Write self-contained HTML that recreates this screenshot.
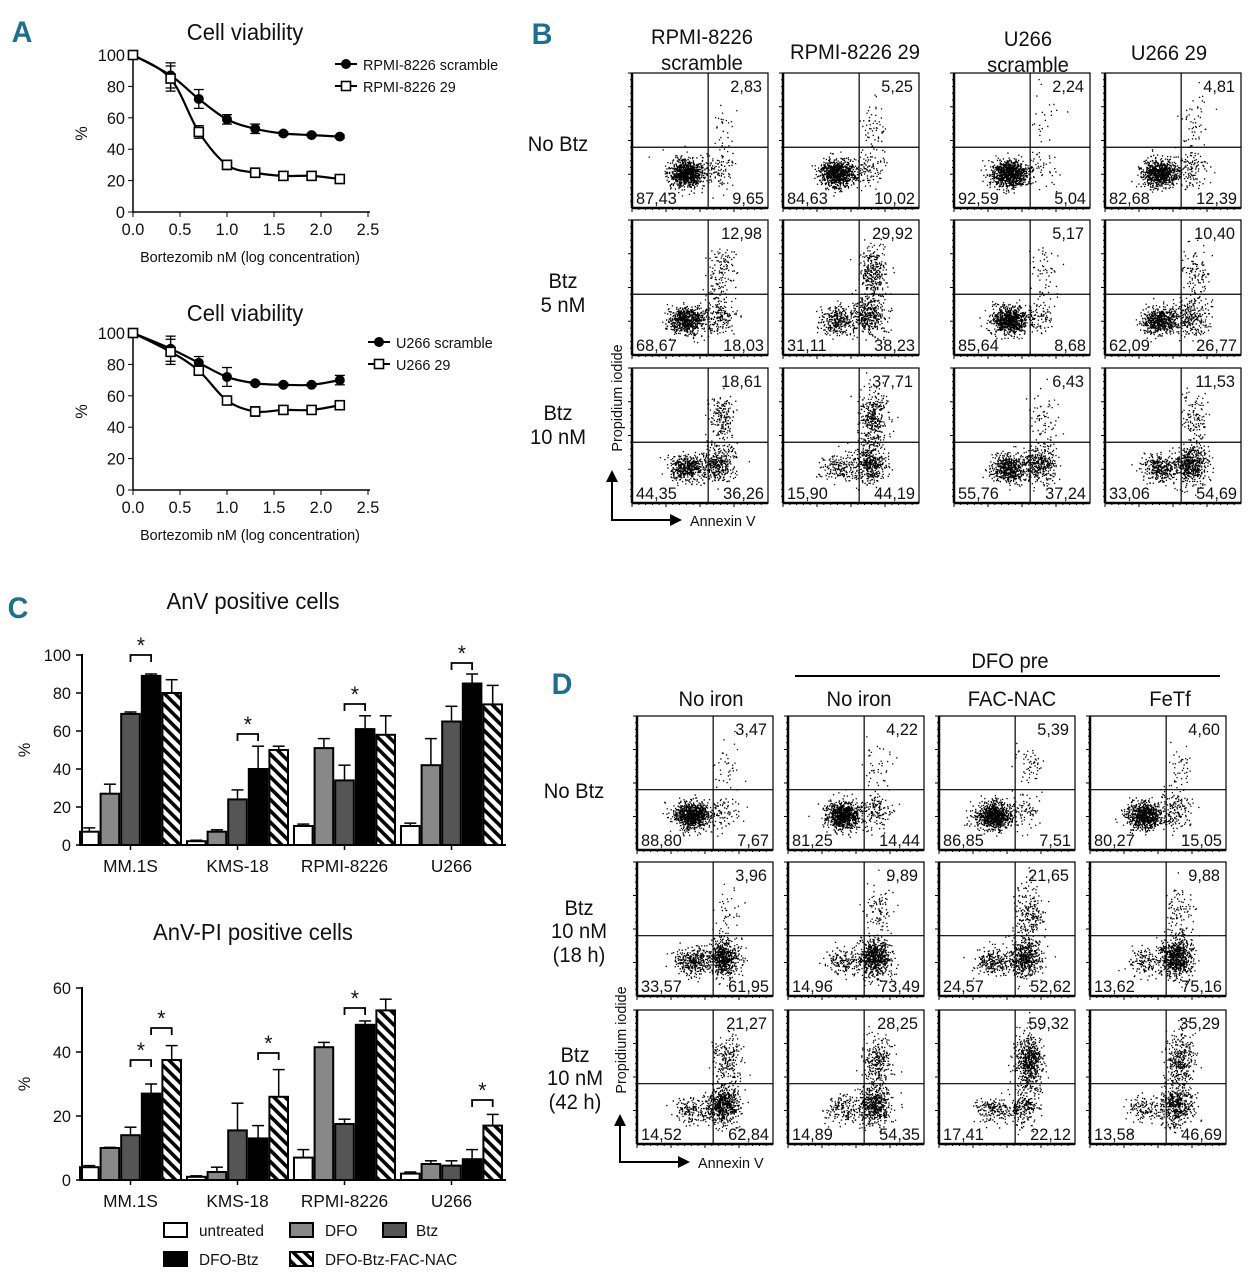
<!DOCTYPE html>
<html><head><meta charset="utf-8"><style>
html,body{margin:0;padding:0;background:#fff}
svg{display:block;font-family:"Liberation Sans Narrow","Liberation Sans",sans-serif}
</style></head><body>
<svg id="fig" width="1260" height="1280" viewBox="0 0 1260 1280" xmlns="http://www.w3.org/2000/svg">
<defs>
<pattern id="hatch" patternUnits="userSpaceOnUse" width="8" height="8" patternTransform="rotate(-45)">
<rect width="8" height="8" fill="#fff"/><rect width="3.6" height="8" fill="#000"/>
</pattern>
</defs>
<g id="root"></g>
</svg>
<script>
// ---------- Panel A data ----------
const doseX = [0, 0.4, 0.7, 1.0, 1.3, 1.6, 1.9, 2.2];
const rpmiScramble = [100, 87, 72, 59, 53, 50, 49, 48];
const rpmiScrambleErr = [0, 8, 6, 3, 3, 1, 1, 1];
const rpmi29 = [100, 85, 51, 30, 25, 23, 23, 21];
const rpmi29Err = [0, 8, 4, 3, 3, 1, 1, 1];
const u266Scramble = [100, 90, 81, 72, 68, 67, 67, 70];
const u266ScrambleErr = [0, 8, 4, 6, 1, 1, 1, 3];
const u26629 = [100, 88, 76, 57, 50, 51, 51, 54];
const u26629Err = [0, 8, 3, 2, 3, 2, 2, 2];
const xTicksA = ["0.0","0.5","1.0","1.5","2.0","2.5"];
const yTicksA = ["0","20","40","60","80","100"];
// ---------- Panel C data ----------
const cellLines = ["MM.1S","KMS-18","RPMI-8226","U266"];
const seriesNames = ["untreated","DFO","Btz","DFO-Btz","DFO-Btz-FAC-NAC"];
const anvUntreated = [7, 2, 10, 10];
const anvDFO = [27, 7, 51, 42];
const anvBtz = [69, 24, 34, 65];
const anvDFOBtz = [89, 40, 61, 85];
const anvFACNAC = [80, 50, 58, 74];
const anvErr = [[2,0.5,1,1.5],[5,1,5,14],[1,5,8,8],[1,12,7,5],[7,2,10,10]];
const pifUntreated = [4, 1, 7, 2];
const pifDFO = [10, 2.5, 41.5, 5];
const pifBtz = [14, 15.5, 17.5, 4.5];
const pifDFOBtz = [27, 13, 48.5, 6.5];
const pifFACNAC = [37.5, 26, 53, 17];
const pifErr = [[0.5,0.3,2.5,0.5],[0.2,1.5,1.5,1],[2.5,8.5,1.5,1.5],[3,4,1.2,3],[4.5,8.5,3.5,3.5]];
const yTicksCtop = ["0","20","40","60","80","100"];
const yTicksCbot = ["0","20","40","60"];
// ---------- Flow data (UR, LL, LR percentages) ----------
const flowB = [
 [[2.83,87.43,9.65],[5.25,84.63,10.02],[2.24,92.59,5.04],[4.81,82.68,12.39]],
 [[12.98,68.67,18.03],[29.92,31.11,38.23],[5.17,85.64,8.68],[10.40,62.09,26.77]],
 [[18.61,44.35,36.26],[37.71,15.90,44.19],[6.43,55.76,37.24],[11.53,33.06,54.69]]];
const flowD = [
 [[3.47,88.80,7.67],[4.22,81.25,14.44],[5.39,86.85,7.51],[4.60,80.27,15.05]],
 [[3.96,33.57,61.95],[9.89,14.96,73.49],[21.65,24.57,52.62],[9.88,13.62,75.16]],
 [[21.27,14.52,62.84],[28.25,14.89,54.35],[59.32,17.41,22.12],[35.29,13.58,46.69]]];

const NS="http://www.w3.org/2000/svg";
const root=document.getElementById('root');
const SX=0.96;
function mk(tag,attrs,parent){const e=document.createElementNS(NS,tag);for(const k in attrs)e.setAttribute(k,attrs[k]);(parent||root).appendChild(e);return e;}
function txt(x,y,s,size,anchor,parent,extra){
 const a=Object.assign({x:0,y:0,'font-size':size,'text-anchor':anchor||'middle',fill:'#111',transform:`translate(${x},${y}) scale(${SX},1)`},extra||{});
 if(extra&&extra.transform)a.transform=extra.transform+` scale(${SX},1)`;
 const e=mk('text',a,parent);e.textContent=s;return e;}
function fmt(v){return v.toFixed(2).replace('.',',');}

[['A',22,42],['B',542,44],['C',18,618],['D',562,694]].forEach(l=>{
 const t=txt(l[1],l[2],l[0],30,'middle',root,{'font-weight':'bold',fill:'#1b7090'});
 
 
});

function curvePanel(y0,y100,title,titleY,s1,e1,s2,e2,n1,n2,legY,legX){
 const g=mk('g',{});
 
 
 const xs=v=>133+v*94, ys=v=>y0-(y0-y100)*v/100;
 const tt=txt(245,titleY,title,23,'middle',g);
 
 
 mk('line',{x1:133,y1:y100-2,x2:133,y2:y0,stroke:'#000','stroke-width':1.5},g);
 mk('line',{x1:133,y1:y0,x2:370,y2:y0,stroke:'#000','stroke-width':1.5},g);
 yTicksA.forEach((t,i)=>{const v=i*20;mk('line',{x1:128,y1:ys(v),x2:133,y2:ys(v),stroke:'#000'},g);txt(125,ys(v)+6,t,17,'end',g);});
 xTicksA.forEach((t,i)=>{const v=i*0.5;mk('line',{x1:xs(v),y1:y0,x2:xs(v),y2:y0+5,stroke:'#000'},g);txt(xs(v),y0+23,t,17,'middle',g);});
 const yl=txt(0,0,'%',17,'middle',g,{transform:`translate(87,${(y0+y100)/2}) rotate(-90)`});
 
 
 const xl=txt(250,y0+50,'Bortezomib nM (log concentration)',15,'middle',g);
 
 
 [[s1,e1,true],[s2,e2,false]].forEach(([s,e,filled])=>{
  const pts=doseX.map((x,i)=>[xs(x),ys(s[i])]);
  let d='M'+pts[0][0]+','+pts[0][1];
  for(let i=0;i<pts.length-1;i++){const p0=pts[Math.max(0,i-1)],p1=pts[i],p2=pts[i+1],p3=pts[Math.min(pts.length-1,i+2)];
   d+=` C${p1[0]+(p2[0]-p0[0])/6},${p1[1]+(p2[1]-p0[1])/6} ${p2[0]-(p3[0]-p1[0])/6},${p2[1]-(p3[1]-p1[1])/6} ${p2[0]},${p2[1]}`;}
  const ln=mk('path',{d:d,fill:'none',stroke:'#000','stroke-width':2.2},g);
  
  
  pts.forEach((p,i)=>{
   if(e[i]>0){const t=ys(s[i]+e[i]),b=ys(s[i]-e[i]);mk('line',{x1:p[0],y1:t,x2:p[0],y2:b,stroke:'#000','stroke-width':1.3},g);mk('line',{x1:p[0]-5,y1:t,x2:p[0]+5,y2:t,stroke:'#000','stroke-width':1.3},g);mk('line',{x1:p[0]-5,y1:b,x2:p[0]+5,y2:b,stroke:'#000','stroke-width':1.3},g);}
   const m=filled?mk('circle',{cx:p[0],cy:p[1],r:5,fill:'#000'},g):mk('rect',{x:p[0]-4.5,y:p[1]-4.5,width:9,height:9,fill:'#fff',stroke:'#000','stroke-width':1.6},g);
   
   
  });
 });
 [[n1,true,legY],[n2,false,legY+22]].forEach(([n,f,y])=>{
  const lg=mk('g',{},g);
  
  
  mk('line',{x1:legX,y1:y,x2:legX+22,y2:y,stroke:'#000','stroke-width':2},lg);
  if(f)mk('circle',{cx:legX+11,cy:y,r:5,fill:'#000'},lg);else mk('rect',{x:legX+6.5,y:y-4.5,width:9,height:9,fill:'#fff',stroke:'#000','stroke-width':1.6},lg);
  txt(legX+28,y+6,n,15,'start',lg);
 });
}
curvePanel(212,55,'Cell viability',40,rpmiScramble,rpmiScrambleErr,rpmi29,rpmi29Err,'RPMI-8226 scramble','RPMI-8226 29',64,335);
curvePanel(490,333,'Cell viability',321,u266Scramble,u266ScrambleErr,u26629,u26629Err,'U266 scramble','U266 29',342,368);

const fills=['#fff','#888','#555','#000','url(#hatch)'];
function barPanel(y0,yTop,maxV,ticks,series,errs,title,titleY,stars){
 const g=mk('g',{});
 
 
 const ys=v=>y0-(y0-yTop)*v/maxV;
 const gx=i=>79+i*107, bw=20.6;
 const tt=txt(253,titleY,title,23,'middle',g);
 
 
 ticks.forEach((t,i)=>{const v=maxV*i/(ticks.length-1);mk('line',{x1:76,y1:ys(v),x2:82,y2:ys(v),stroke:'#000','stroke-width':1.5},g);txt(71,ys(v)+6,t,17,'end',g);});
 const yl=txt(0,0,'%',17,'middle',g,{transform:`translate(30,${(y0+yTop)/2}) rotate(-90)`});
 
 
 cellLines.forEach((c,ci)=>{
  series.forEach((s,si)=>{
   const x=gx(ci)+si*bw, v=s[ci];
   const r=mk('rect',{x:x+1,y:ys(v),width:bw-2,height:y0-ys(v),fill:fills[si],stroke:'#000','stroke-width':2},g);
   
   
   const e=errs[si][ci], cx=x+bw/2, t=ys(v+e);
   mk('line',{x1:cx,y1:ys(v),x2:cx,y2:t,stroke:'#000','stroke-width':1.5},g);
   mk('line',{x1:cx-6,y1:t,x2:cx+6,y2:t,stroke:'#000','stroke-width':1.5},g);
  });
  const mx=gx(ci)+bw*2.5;
  mk('line',{x1:mx,y1:y0,x2:mx,y2:y0+5,stroke:'#000','stroke-width':1.5},g);
  const lt=txt(mx,y0+27,c,18,'middle',g);
  
  
 });
 mk('line',{x1:82,y1:yTop-1,x2:82,y2:y0,stroke:'#000','stroke-width':2},g);
 mk('line',{x1:82,y1:y0,x2:506,y2:y0,stroke:'#000','stroke-width':2},g);
 stars.forEach(([ci,a,b,yy])=>{
  const x1=gx(ci)+a*bw+bw/2,x2=gx(ci)+b*bw+bw/2;
  const sg=mk('g',{},g);
  
  
  mk('path',{d:`M${x1},${yy+7} V${yy} H${x2} V${yy+7}`,fill:'none',stroke:'#000','stroke-width':1.8},sg);
  txt((x1+x2)/2,yy-2,'*',22,'middle',sg);
 });
}
barPanel(845,655,100,yTicksCtop,[anvUntreated,anvDFO,anvBtz,anvDFOBtz,anvFACNAC],anvErr,'AnV positive cells',609,
 [[0,2,3,655],[1,2,3,734],[2,2,3,704],[3,2,3,663]]);
barPanel(1180,988,60,yTicksCbot,[pifUntreated,pifDFO,pifBtz,pifDFOBtz,pifFACNAC],pifErr,'AnV-PI positive cells',940,
 [[0,2,3,1060],[0,3,4,1028],[1,3,4,1053],[2,2,3,1008],[3,3,4,1100]]);
[[0,163,1230],[1,289,1230],[2,382,1230],[3,163,1259],[4,289,1259]].forEach(([si,x,y])=>{
 const lg=mk('g',{});
 
 
 mk('rect',{x:x+1,y:y-7,width:23,height:14,fill:fills[si],stroke:'#000','stroke-width':2},lg);
 txt(x+(si===2?34:36),y+6,seriesNames[si],16,'start',lg);
});

let seed=7;
function rnd(){seed=(seed*16807)%2147483647;return (seed-1)/2147483646;}
function gauss(){let u=rnd()||1e-6,v=rnd();return Math.sqrt(-2*Math.log(u))*Math.cos(2*Math.PI*v);}
function flowPlot(x,y,w,h,vals,name){
 const g=mk('g',{});
 
 
 const [ur,ll,lr]=vals;
 const vx=x+w*0.56, hy=y+h*0.55;
 const N=1000;
 let d='';
 const dot=(px,py)=>{px=Math.max(x+2,Math.min(x+w-2,px));py=Math.max(y+2,Math.min(y+h-2,py));d+=`M${px.toFixed(1)},${py.toFixed(1)}h1.3v1.3h-1.3z`;};
 for(let i=0;i<N*ll/100;i++)dot(vx-w*0.16+gauss()*w*0.065,hy+h*0.19+gauss()*h*0.05);
 for(let i=0;i<N*lr/100;i++)dot(vx+w*0.07+gauss()*w*0.06,hy+h*0.16+gauss()*h*0.07);
 for(let i=0;i<N*ur/100;i++)dot(vx+w*0.1+gauss()*w*0.05,hy-h*0.17+gauss()*h*0.1);
 mk('path',{d:d,fill:'#000'},g);
 mk('rect',{x:x,y:y,width:w,height:h,fill:'none',stroke:'#000','stroke-width':1.2},g);
 mk('line',{x1:x,y1:y,x2:x,y2:y+h,stroke:'#000','stroke-width':2.5},g);
 mk('line',{x1:x,y1:y+h,x2:x+w,y2:y+h,stroke:'#000','stroke-width':2.5},g);
 for(let k=0;k<20;k++){const f=k/20;mk('line',{x1:x,y1:y+h*f,x2:x-(k%5?2:4),y2:y+h*f,stroke:'#000'},g);mk('line',{x1:x+w*f,y1:y+h,x2:x+w*f,y2:y+h+(k%5?2:4),stroke:'#000'},g);}
 mk('line',{x1:vx,y1:y,x2:vx,y2:y+h,stroke:'#000','stroke-width':1.2},g);
 mk('line',{x1:x,y1:hy,x2:x+w,y2:hy,stroke:'#000','stroke-width':1.2},g);
 txt(x+w-6,y+19,fmt(ur),17,'end',g);
 txt(x+4,y+h-4,fmt(ll),17,'start',g);
 txt(x+w-4,y+h-4,fmt(lr),17,'end',g);
}
const bCols=[632,783,954,1105], bRows=[73,220,368];
flowB.forEach((row,r)=>row.forEach((v,c)=>flowPlot(bCols[c],bRows[r],136,135,v,`flow-b-r${r+1}-c${c+1}`)));
const dCols=[637,788,939,1090], dRows=[716,862,1010];
flowD.forEach((row,r)=>row.forEach((v,c)=>flowPlot(dCols[c],dRows[r],136,134,v,`flow-d-r${r+1}-c${c+1}`)));

function labels(list,size,name){list.forEach(([x,y,s])=>{const t=txt(x,y,s,size,'middle');});}
labels([[702,44,'RPMI-8226'],[702,70,'scramble'],[855,59,'RPMI-8226 29'],[1028,46,'U266'],[1028,72,'scramble'],[1169,60,'U266 29']],21,'column-header');
labels([[558,151,'No Btz'],[563,288,'Btz'],[563,312,'5 nM'],[558,420,'Btz'],[558,444,'10 nM']],21,'row-label');
labels([[1010,668,'DFO pre'],[711,706,'No iron'],[859,706,'No iron'],[1012,706,'FAC-NAC'],[1170,706,'FeTf']],21,'column-header');
labels([[574,798,'No Btz'],[579,915,'Btz'],[579,938,'10 nM'],[579,962,'(18 h)'],[575,1062,'Btz'],[575,1085,'10 nM'],[575,1109,'(42 h)']],21,'row-label');
mk('line',{x1:795,y1:676,x2:1220,y2:676,stroke:'#000','stroke-width':2});
function axesArrow(x0,y0,yTop,xEnd,labelY,labX){
 const g=mk('g',{});
 
 
 mk('path',{d:`M${x0},${yTop+8} V${y0} H${xEnd-8}`,fill:'none',stroke:'#000','stroke-width':2},g);
 mk('path',{d:`M${x0-6},${yTop+10} L${x0},${yTop-2} L${x0+6},${yTop+10}Z`,fill:'#000'},g);
 mk('path',{d:`M${xEnd-10},${y0-6} L${xEnd+2},${y0} L${xEnd-10},${y0+6}Z`,fill:'#000'},g);
 txt(xEnd+10,y0+6,'Annexin V',15,'start',g);
 txt(0,0,'Propidium iodide',15,'middle',g,{transform:`translate(${labX},${labelY}) rotate(-90)`});
}
axesArrow(612,520,472,680,398,622);
axesArrow(620,1162,1116,688,1040,626);
</script>
</body></html>
